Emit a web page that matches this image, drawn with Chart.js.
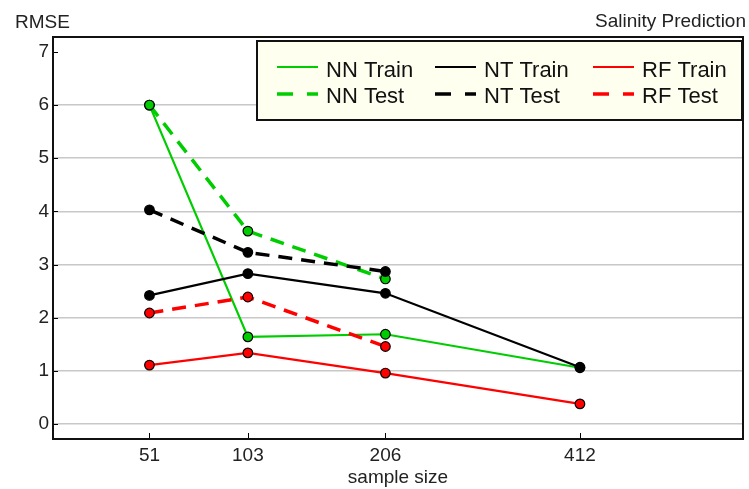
<!DOCTYPE html>
<html>
<head>
<meta charset="utf-8">
<script src="https://cdn.jsdelivr.net/npm/chart.js@4"></script>
<style>
  html, body { margin: 0; padding: 0; background: #fff; }
</style>
</head>
<body>
<canvas id="rmseChart" width="749" height="489"></canvas>
<script>
// data
const sampleSizes = [51, 103, 206, 412];
const yTicks = [0, 1, 2, 3, 4, 5, 6, 7];
const nnTrain = [6.0, 1.64, 1.69, 1.06];
const nnTest = [6.0, 3.63, 2.73];
const ntTrain = [2.42, 2.83, 2.46, 1.07];
const ntTest = [4.03, 3.23, 2.87];
const rfTrain = [1.11, 1.34, 0.96, 0.38];
const rfTest = [2.09, 2.39, 1.46];

const GREEN = '#00CD00', BLACK = '#000000', RED = '#FF0000';
const FONT = '"Liberation Sans", Arial, sans-serif';

// x axis is spaced by square root of the sample size
class SqrtScale extends Chart.LinearScale {
  static id = 'sqrt';
  getPixelForValue(value) {
    const a = Math.sqrt(this.min), b = Math.sqrt(this.max);
    return this.getPixelForDecimal((Math.sqrt(value) - a) / (b - a));
  }
  getValueForPixel(pixel) {
    const a = Math.sqrt(this.min), b = Math.sqrt(this.max);
    const s = a + this.getDecimalForPixel(pixel) * (b - a);
    return s * s;
  }
}
Chart.register(SqrtScale);

const toPoints = vals => vals.map((v, i) => ({ x: sampleSizes[i], y: v }));

function series(label, vals, color, dashed, order) {
  return {
    label,
    data: toPoints(vals),
    borderColor: color,
    borderWidth: dashed ? 3.5 : 2.2,
    borderDash: dashed ? [14, 9] : [],
    pointRadius: 4.8,
    pointHoverRadius: 4.8,
    pointBackgroundColor: color,
    pointBorderColor: '#000',
    pointBorderWidth: 1.2,
    tension: 0,
    order
  };
}

const chartDeco = {
  id: 'chartDeco',
  afterDatasetsDraw(chart) {
    const { ctx, chartArea: a, scales } = chart;
    ctx.save();
    // inward tick marks
    ctx.strokeStyle = '#000';
    ctx.lineWidth = 1;
    scales.x.ticks.forEach(t => {
      const px = Math.round(scales.x.getPixelForValue(t.value)) + 0.5;
      ctx.beginPath(); ctx.moveTo(px, a.bottom); ctx.lineTo(px, a.bottom - 6); ctx.stroke();
    });
    scales.y.ticks.forEach(t => {
      const py = Math.round(scales.y.getPixelForValue(t.value)) + 0.5;
      ctx.beginPath(); ctx.moveTo(a.left, py); ctx.lineTo(a.left + 5, py); ctx.stroke();
    });
    // plot frame
    ctx.strokeStyle = '#111';
    ctx.lineWidth = 2;
    ctx.strokeRect(a.left, a.top, a.right - a.left, a.bottom - a.top);
    ctx.restore();
  },
  afterDraw(chart) {
    const { ctx } = chart;
    ctx.save();
    // corner titles
    ctx.fillStyle = '#222';
    ctx.font = '19px ' + FONT;
    ctx.textBaseline = 'alphabetic';
    ctx.textAlign = 'left';
    ctx.fillText('RMSE', 15, 28);
    ctx.textAlign = 'right';
    ctx.fillText('Salinity Prediction', 746, 27);

    // legend box, one column per model, rows train / test
    ctx.fillStyle = '#FFFFF0';
    ctx.fillRect(257, 41, 485, 79);
    ctx.strokeStyle = '#111';
    ctx.lineWidth = 2;
    ctx.strokeRect(257, 41, 485, 79);
    const colX = [277, 435, 593];
    const lineY = [67, 94];
    const textY = [77, 103];
    ctx.font = '22px ' + FONT;
    ctx.textAlign = 'left';
    chart.data.datasets.forEach((ds, i) => {
      const col = Math.floor(i / 2), row = i % 2;
      const x = colX[col];
      ctx.strokeStyle = ds.borderColor;
      ctx.lineWidth = row ? 3.5 : 2;
      ctx.setLineDash(row ? [16, 14] : []);
      ctx.beginPath(); ctx.moveTo(x, lineY[row]); ctx.lineTo(x + 41, lineY[row]); ctx.stroke();
      ctx.setLineDash([]);
      ctx.fillStyle = '#111';
      ctx.fillText(ds.label, x + 49, textY[row]);
    });
    ctx.restore();
  }
};

new Chart(document.getElementById('rmseChart'), {
  type: 'line',
  data: {
    datasets: [
      series('NN Train', nnTrain, GREEN, false, 6),
      series('NN Test', nnTest, GREEN, true, 3),
      series('NT Train', ntTrain, BLACK, false, 5),
      series('NT Test', ntTest, BLACK, true, 2),
      series('RF Train', rfTrain, RED, false, 4),
      series('RF Test', rfTest, RED, true, 1)
    ]
  },
  options: {
    responsive: false,
    animation: false,
    layout: { padding: { top: 37, right: 2, left: 0, bottom: 0 } },
    plugins: { legend: { display: false }, tooltip: { enabled: false } },
    scales: {
      x: {
        type: 'sqrt',
        min: 17.59,
        max: 639.1,
        afterBuildTicks: s => { s.ticks = sampleSizes.map(v => ({ value: v })); },
        afterFit: s => { s.height = 50; },
        grid: { display: false },
        border: { display: false },
        ticks: { color: '#222', font: { family: FONT, size: 19 }, padding: -3, callback: v => String(v), maxRotation: 0 },
        title: { display: true, text: 'sample size', color: '#222', font: { family: FONT, size: 19 }, padding: { top: 0, bottom: 0 } }
      },
      y: {
        min: -0.28,
        max: 7.28,
        afterBuildTicks: s => { s.ticks = yTicks.map(v => ({ value: v })); },
        afterFit: s => { s.width = 53; },
        grid: {
          drawTicks: false,
          lineWidth: 1.5,
          color: c => (c.tick && c.tick.value === 7 ? 'rgba(0,0,0,0)' : '#C8C8C8')
        },
        border: { display: false },
        ticks: { color: '#222', font: { family: FONT, size: 19 }, padding: 4 }
      }
    }
  },
  plugins: [chartDeco]
});
</script>
</body>
</html>
